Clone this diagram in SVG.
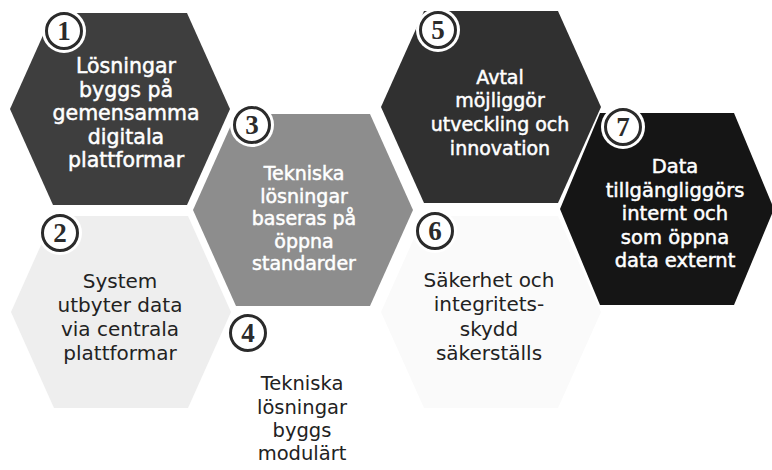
<svg xmlns="http://www.w3.org/2000/svg" width="772" height="470" viewBox="0 0 772 470">
<style>
.t{font-family:"DejaVu Sans","Liberation Sans",sans-serif;text-anchor:middle}
.w{fill:#fff;stroke:#fff;stroke-width:0.5}
.d{fill:#222}
.ring{fill:#fff;stroke:#2b2b2b;stroke-width:3}
.halo{fill:#fff}
.num{font-family:"Liberation Serif","DejaVu Serif",serif;font-weight:bold;font-size:27px;fill:#2b2b2b;text-anchor:middle}
</style>
<rect width="772" height="470" fill="#fff"/>
<g id="connectors"></g>
<g id="node2">
<polygon points="11,312 54,216 188,216 231,312 188,408 54,408" fill="#eeeeee"/>
<text class="t d" font-size="20"><tspan x="120" y="288">System</tspan><tspan x="120" y="312">utbyter data</tspan><tspan x="120" y="336">via centrala</tspan><tspan x="120" y="360">plattformar</tspan></text>
<circle class="halo" cx="60" cy="233" r="22"/><circle class="ring" cx="60" cy="233" r="17.5"/><text class="num" x="60" y="242">2</text>
</g>
<g id="node1">
<polygon points="10,109 53,13 187,13 230,109 187,205 53,205" fill="#3e3e3e"/>
<text class="t w" font-size="20.5"><tspan x="126" y="73">Lösningar</tspan><tspan x="126" y="96.5">byggs på</tspan><tspan x="126" y="120">gemensamma</tspan><tspan x="126" y="143.5">digitala</tspan><tspan x="126" y="167">plattformar</tspan></text>
<circle class="halo" cx="64" cy="31" r="22"/><circle class="ring" cx="64" cy="31" r="17.5"/><text class="num" x="64" y="40">1</text>
</g>
<g id="node4">
<polygon points="193,415 236,319 370,319 413,415 370,511 236,511" fill="#fff"/>
<text class="t d" font-size="19.5"><tspan x="302" y="390">Tekniska</tspan><tspan x="302" y="414">lösningar</tspan><tspan x="302" y="437">byggs</tspan><tspan x="302" y="460">modulärt</tspan></text>
<circle class="halo" cx="248" cy="333" r="22"/><circle class="ring" cx="248" cy="333" r="17.5"/><text class="num" x="248" y="342">4</text>
</g>
<g id="node3">
<polygon points="193,210 236,114 370,114 413,210 370,306 236,306" fill="#8d8d8d"/>
<text class="t w" font-size="19"><tspan x="304" y="180">Tekniska</tspan><tspan x="304" y="202.5">lösningar</tspan><tspan x="304" y="225">baseras på</tspan><tspan x="304" y="247.5">öppna</tspan><tspan x="304" y="270">standarder</tspan></text>
<circle class="halo" cx="252" cy="125" r="22"/><circle class="ring" cx="252" cy="125" r="17.5"/><text class="num" x="252" y="134">3</text>
</g>
<g id="node6">
<polygon points="381,312 424,216 558,216 601,312 558,408 424,408" fill="#fafafa"/>
<text class="t d" font-size="20"><tspan x="489" y="287">Säkerhet och</tspan><tspan x="489" y="311">integritets-</tspan><tspan x="489" y="336">skydd</tspan><tspan x="489" y="360">säkerställs</tspan></text>
<circle class="halo" cx="435" cy="231" r="22"/><circle class="ring" cx="435" cy="231" r="17.5"/><text class="num" x="435" y="240">6</text>
</g>
<g id="node5">
<polygon points="381,107 424,11 558,11 601,107 558,203 424,203" fill="#303030"/>
<text class="t w" font-size="19"><tspan x="500" y="84">Avtal</tspan><tspan x="500" y="107">möjliggör</tspan><tspan x="500" y="131">utveckling och</tspan><tspan x="500" y="155">innovation</tspan></text>
<circle class="halo" cx="438" cy="30" r="22"/><circle class="ring" cx="438" cy="30" r="17.5"/><text class="num" x="438" y="39">5</text>
</g>
<g id="node7">
<polygon points="560,209 600,113 734,113 774,209 734,305 600,305" fill="#151515"/>
<text class="t w" font-size="19.5"><tspan x="675" y="173">Data</tspan><tspan x="675" y="196.5">tillgängliggörs</tspan><tspan x="675" y="220">internt och</tspan><tspan x="675" y="243.5">som öppna</tspan><tspan x="675" y="267">data externt</tspan></text>
<circle class="halo" cx="623" cy="127" r="22"/><circle class="ring" cx="623" cy="127" r="17.5"/><text class="num" x="623" y="136">7</text>
</g>
</svg>
